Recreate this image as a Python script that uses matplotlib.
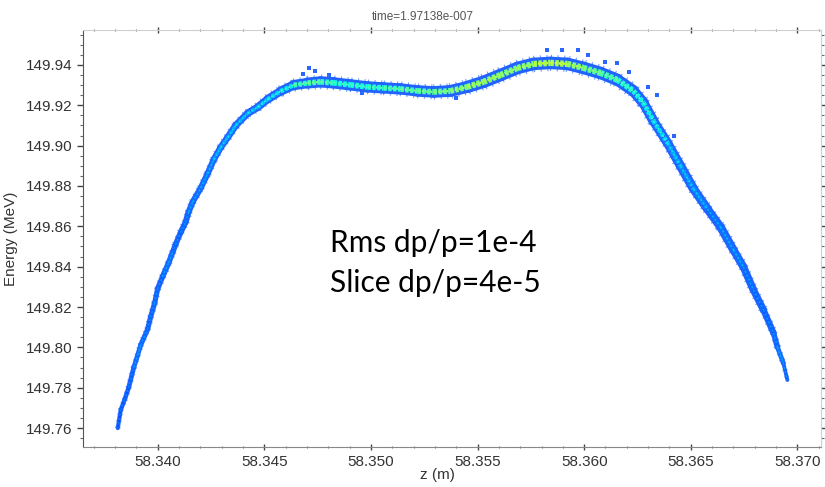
import numpy as np
import matplotlib.pyplot as plt
from matplotlib.collections import LineCollection
from matplotlib.ticker import MultipleLocator

plt.rcParams['lines.scale_dashes'] = False

# beam centroid along z
z = [58.33813, 58.33827, 58.33845, 58.33864, 58.33888, 58.33906, 58.33920, 58.33953,
     58.33967, 58.33986, 58.34000, 58.34023, 58.34052, 58.34070, 58.34084, 58.34108,
     58.34131, 58.34145, 58.34164, 58.34202, 58.34234, 58.34263, 58.34295, 58.34328,
     58.34366, 58.34422, 58.34469, 58.34516, 58.34577, 58.34638, 58.34703, 58.34764,
     58.34825, 58.34905, 58.34984, 58.35059, 58.35139, 58.35219, 58.35294, 58.35373,
     58.35453, 58.35528, 58.35608, 58.35688, 58.35763, 58.35842, 58.35922, 58.35997,
     58.36077, 58.36156, 58.36231, 58.36278, 58.36325, 58.36391, 58.36452, 58.36513,
     58.36578, 58.36639, 58.36700, 58.36747, 58.36794, 58.36841, 58.36888, 58.36906,
     58.36934, 58.36953]
energy = [149.760, 149.769, 149.774, 149.780, 149.790, 149.796, 149.801, 149.809,
          149.815, 149.822, 149.829, 149.835, 149.842, 149.847, 149.851, 149.857,
          149.862, 149.867, 149.872, 149.879, 149.886, 149.893, 149.899, 149.904,
          149.910, 149.916, 149.919, 149.923, 149.927, 149.930, 149.931, 149.9316,
          149.9311, 149.9301, 149.9291, 149.9286, 149.9281, 149.9271, 149.9266, 149.9271,
          149.9291, 149.9316, 149.9350, 149.9385, 149.9405, 149.9410, 149.9405, 149.9385,
          149.9360, 149.9326, 149.9271, 149.9212, 149.9122, 149.9013, 149.8899, 149.8785,
          149.8686, 149.8597, 149.8483, 149.8398, 149.8284, 149.8185, 149.8071, 149.8002,
          149.7922, 149.7838]
# half energy spread of each slice (MeV)
spread = [0.0010, 0.0011, 0.0011, 0.0012, 0.0012, 0.0012, 0.0012, 0.0013,
          0.0013, 0.0013, 0.0013, 0.0014, 0.0014, 0.0014, 0.0014, 0.0014,
          0.0015, 0.0015, 0.0015, 0.0015, 0.0015, 0.0016, 0.0016, 0.0017,
          0.0017, 0.0018, 0.0019, 0.0020, 0.0022, 0.0024, 0.0027, 0.0028,
          0.0028, 0.0028, 0.0028, 0.0028, 0.0028, 0.0028, 0.0029, 0.0029,
          0.0030, 0.0031, 0.0031, 0.0031, 0.0031, 0.0031, 0.0031, 0.0031,
          0.0031, 0.0030, 0.0028, 0.0026, 0.0024, 0.0023, 0.0023, 0.0023,
          0.0021, 0.0021, 0.0021, 0.0019, 0.0019, 0.0017, 0.0015, 0.0013,
          0.0011, 0.0008]
# relative particle density in the core (colour scale)
density = [0.20, 0.20, 0.21, 0.21, 0.22, 0.26, 0.24, 0.22,
           0.22, 0.23, 0.22, 0.22, 0.26, 0.22, 0.22, 0.23,
           0.22, 0.24, 0.25, 0.24, 0.26, 0.27, 0.30, 0.28,
           0.30, 0.29, 0.31, 0.33, 0.34, 0.37, 0.44, 0.42,
           0.38, 0.37, 0.38, 0.40, 0.42, 0.44, 0.45, 0.47,
           0.50, 0.52, 0.50, 0.48, 0.52, 0.56, 0.53, 0.48,
           0.44, 0.40, 0.37, 0.36, 0.35, 0.31, 0.27, 0.28,
           0.25, 0.23, 0.26, 0.23, 0.23, 0.22, 0.22, 0.24,
           0.26, 0.20]

# stray particles outside the main band
stray_z = [58.34708, 58.34802, 58.35828, 58.35898, 58.35973, 58.36016, 58.36100,
           58.36156, 58.36208, 58.34680, 58.34740, 58.34960, 58.35400, 58.36300,
           58.36340, 58.36420]
stray_e = [149.9385, 149.9350, 149.9474, 149.9474, 149.9474, 149.9450, 149.9415,
           149.9410, 149.9365, 149.9355, 149.9372, 149.9260, 149.9235, 149.9290,
           149.9250, 149.9050]

fig = plt.figure(figsize=(8.25, 4.87), dpi=100)
ax = fig.add_axes([0.1006, 0.0821, 0.8944, 0.8563])
ax.set_xlim(58.3365, 58.3711)
ax.set_ylim(149.7506, 149.9573)

# convert MeV spread to line width in points
ax_h_pt = fig.get_figheight() * 72 * 0.8563
pt_per_mev = ax_h_pt / (149.9573 - 149.7506)

pts = np.column_stack([z, energy])
segs = np.stack([pts[:-1], pts[1:]], axis=1)
sp = np.array(spread)
seg_w = (sp[:-1] + sp[1:]) * pt_per_mev  # full width = 2 * half spread
dens = np.array(density)
seg_d = (dens[:-1] + dens[1:]) / 2
jet = plt.get_cmap('jet')

# sparse ragged halo, then the solid band, then the coloured core
halo = LineCollection(segs, linewidths=seg_w * 1.3, colors='#4a85ff', alpha=0.8,
                      linestyles=[(0, (0.8, 4.0))], capstyle='butt')
ax.add_collection(halo)
outer = LineCollection(segs, linewidths=seg_w, colors='#2263ff',
                       capstyle='round', joinstyle='round')
ax.add_collection(outer)
mid = LineCollection(segs, linewidths=seg_w * 0.5, colors=jet(seg_d),
                     linestyles=[(0, (2.5, 1.0))], capstyle='butt')
ax.add_collection(mid)
core = LineCollection(segs, linewidths=seg_w * 0.2, colors=jet(np.minimum(seg_d + 0.06, 1)),
                      linestyles=[(0, (1.5, 1.5))], capstyle='butt')
ax.add_collection(core)

ax.scatter(stray_z, stray_e, s=5, marker='s', color='#2a66ff', linewidths=0)

# axes styling
ax.xaxis.set_major_locator(MultipleLocator(0.005))
ax.xaxis.set_minor_locator(MultipleLocator(0.001))
ax.yaxis.set_major_locator(MultipleLocator(0.02))
ax.yaxis.set_minor_locator(MultipleLocator(0.005))
ax.xaxis.set_major_formatter(plt.FormatStrFormatter('%.3f'))
ax.yaxis.set_major_formatter(plt.FormatStrFormatter('%.2f'))

ax.spines['left'].set_color('#555555')
ax.spines['bottom'].set_color('#888888')
for side in ['top', 'right']:
    ax.spines[side].set_color('#d0d0d0')
    ax.spines[side].set_linewidth(0.8)

ax.tick_params(axis='both', which='major', direction='out', length=4, width=1,
               color='#444444', labelsize=11, labelcolor='#333333')
ax.tick_params(axis='both', which='minor', direction='out', length=2, width=0.8,
               color='#666666')
ax.tick_params(top=True, right=True, which='both')
ax.tick_params(axis='x', which='both', top=True, direction='inout')

for lbl in ax.get_xticklabels() + ax.get_yticklabels():
    lbl.set_family('Liberation Sans')

ax.set_ylabel('Energy (MeV)', family='Liberation Sans', fontsize=11, color='#333333', labelpad=6)
ax.set_xlabel('z (m)', family='Liberation Sans', fontsize=11, color='#333333', labelpad=4)
ax.xaxis.set_label_coords(0.48, -0.05)
ax.set_title('time=1.97138e-007', family='Liberation Sans', fontsize=8.5, color='#555555',
             x=0.461, pad=7)

fig.text(0.40, 0.4825, 'Rms dp/p=1e-4', family='Lato', fontsize=21.5, color='black',
         ha='left', va='baseline')
fig.text(0.40, 0.4004, 'Slice dp/p=4e-5', family='Lato', fontsize=21.5, color='black',
         ha='left', va='baseline')

fig.savefig('out.png', dpi=100)
